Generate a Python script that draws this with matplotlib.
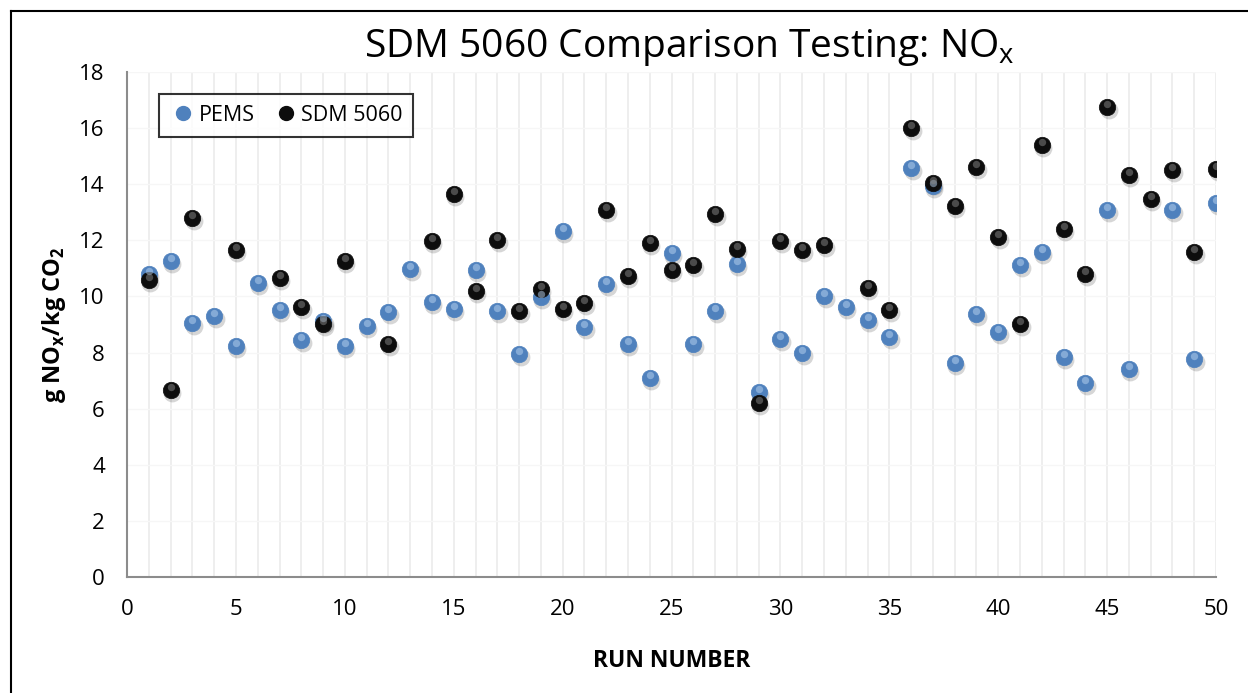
import numpy as np
import matplotlib
matplotlib.use("Agg")
import matplotlib.pyplot as plt
import matplotlib.transforms as mtransforms
from matplotlib.lines import Line2D

# ======================================
# DATA
# ======================================

runs = list(range(1, 51))

pems = [10.80, 11.27, 9.06, 9.30, 8.23, 10.47, 9.52, 8.45, 9.12, 8.23,
        8.94, 9.45, 10.99, 9.80, 9.55, 10.95, 9.48, 7.95, 9.97, 12.32,
        8.90, 10.46, 8.29, 7.10, 11.54, 8.32, 9.48, 11.15, 6.60, 8.50,
        8.00, 10.01, 9.62, 9.15, 8.56, 14.58, 13.94, 7.61, 9.39, 8.72,
        11.11, 11.58, 7.85, 6.90, 13.08, 7.40, np.nan, 13.08, 7.76, 13.32]

sdm = [10.58, 6.65, 12.81, np.nan, 11.64, np.nan, 10.66, 9.62, 9.02, 11.26,
       np.nan, 8.29, np.nan, 11.97, 13.66, 10.19, 12.00, 9.48, 10.25, 9.54,
       9.76, 13.09, 10.72, 11.91, 10.93, 11.11, 12.93, 11.69, 6.20, 11.97,
       11.66, 11.85, np.nan, 10.31, 9.52, 16.00, 14.06, 13.24, 14.61, 12.12,
       9.00, 15.40, 12.40, 10.80, 16.74, 14.34, 13.49, 14.52, 11.58, 14.55]

x_ticks = [0, 5, 10, 15, 20, 25, 30, 35, 40, 45, 50]
y_ticks = [0, 2, 4, 6, 8, 10, 12, 14, 16, 18]

BLUE = "#4F81BD"
BLACK = "#0D0D0D"

plt.rcParams["font.family"] = ["Open Sans", "DejaVu Sans"]

fig = plt.figure(figsize=(12.48, 6.93), dpi=100)
ax = fig.add_axes([0.1018, 0.1674, 0.8726, 0.7287])


def draw_balls(x, y, color, hi_color, label):
    # soft shadow, ball, and a small highlight to mimic the 3D spheres
    shadow = mtransforms.offset_copy(ax.transData, fig=fig, x=1.5, y=-3, units="dots")
    hi = mtransforms.offset_copy(ax.transData, fig=fig, x=0, y=3, units="dots")
    ax.scatter(x, y, s=165, color="#000000", alpha=0.16, linewidths=0,
               transform=shadow, zorder=3)
    ax.scatter(x, y, s=140, color=color, edgecolors=color, linewidths=0.5,
               zorder=4, label=label)
    ax.scatter(x, y, s=28, color=hi_color, alpha=0.5, linewidths=0,
               transform=hi, zorder=5)


draw_balls(runs, pems, BLUE, "#B9D3F0", "PEMS")
draw_balls(runs, sdm, BLACK, "#8A8A8A", "SDM 5060")

ax.set_xlim(0, 50)
ax.set_ylim(0, 18)
ax.set_xticks(x_ticks)
ax.set_yticks(y_ticks)
ax.set_xticks(range(0, 51), minor=True)
ax.tick_params(axis="both", which="both", length=0, labelsize=16)
ax.tick_params(axis="x", pad=16)
ax.tick_params(axis="y", pad=16)

ax.grid(True, axis="x", which="both", color="#EBEBEB", linewidth=1.2, zorder=0)
ax.grid(True, axis="y", which="major", color="#F6F6F6", linewidth=1.0, zorder=0)
ax.set_axisbelow(True)

for side in ["top", "right"]:
    ax.spines[side].set_visible(False)
for side in ["left", "bottom"]:
    ax.spines[side].set_color("#8C8C8C")
    ax.spines[side].set_linewidth(1.5)

ax.set_xlabel("RUN NUMBER", fontsize=16.5, fontweight="bold", labelpad=21)
ax.set_ylabel("g NO$_\\mathregular{x}$/kg CO$_\\mathregular{2}$", fontsize=17,
              fontweight="bold", labelpad=8)
fig.text(0.552, 0.932, "SDM 5060 Comparison Testing: NO$_\\mathregular{x}$",
         fontsize=28, ha="center", va="center")

legend_handles = [
    Line2D([], [], marker="o", linestyle="", markersize=10,
           markerfacecolor=BLUE, markeredgecolor=BLUE, label="PEMS"),
    Line2D([], [], marker="o", linestyle="", markersize=10,
           markerfacecolor=BLACK, markeredgecolor=BLACK, label="SDM 5060"),
]
leg = ax.legend(handles=legend_handles, loc="upper left", ncol=2,
                bbox_to_anchor=(0.029, 0.956), borderaxespad=0, fontsize=15.5,
                frameon=True, fancybox=False, edgecolor="black",
                handletextpad=0.05, columnspacing=0.8, borderpad=0.5,
                handlelength=1.3)
leg.get_frame().set_linewidth(1.5)

# outer chart border (left and top edges)
fig.add_artist(Line2D([11 / 1248, 11 / 1248], [0, 1 - 11 / 693],
                      transform=fig.transFigure, color="black", linewidth=1.5))
fig.add_artist(Line2D([11 / 1248, 1], [1 - 11 / 693, 1 - 11 / 693],
                      transform=fig.transFigure, color="black", linewidth=1.5))

fig.savefig("out.png", dpi=100)
